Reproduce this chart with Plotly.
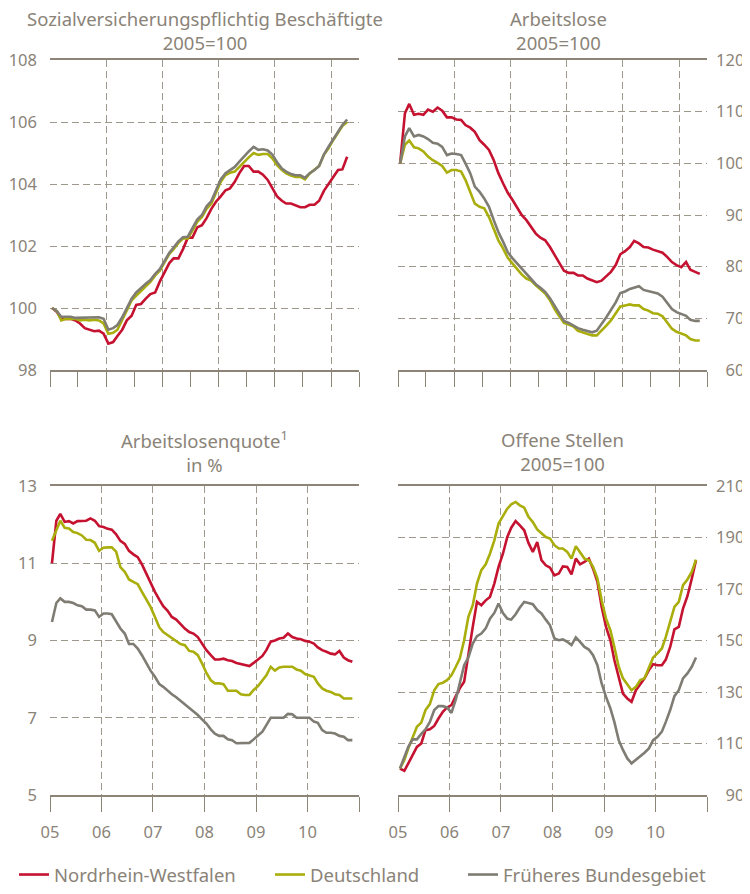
import pandas as pd
import plotly.graph_objects as go

# ---------------- data ----------------
SERIES_NAMES = ["Nordrhein-Westfalen", "Deutschland", "Früheres Bundesgebiet"]
YEAR_LABELS = ["05", "06", "07", "08", "09", "10"]

# Sozialversicherungspflichtig Beschäftigte, 2005=100 (monthly from Jan 2005)
svb_nrw = [100.0, 99.87, 99.65, 99.65, 99.65, 99.6, 99.5, 99.35, 99.3, 99.25, 99.27, 99.17,
           98.85, 98.9, 99.1, 99.3, 99.6, 99.75, 100.1, 100.13, 100.3, 100.45, 100.5, 100.85,
           101.15, 101.45, 101.6, 101.6, 101.9, 102.27, 102.27, 102.6, 102.67, 102.9, 103.2, 103.43,
           103.6, 103.8, 103.86, 104.07, 104.35, 104.58, 104.58, 104.4, 104.4, 104.3, 104.13, 103.86,
           103.6, 103.46, 103.37, 103.37, 103.3, 103.25, 103.25, 103.33, 103.33, 103.46, 103.78, 104.0,
           104.2, 104.45, 104.47, 104.88]
svb_de = [100.0, 99.9, 99.6, 99.65, 99.65, 99.65, 99.6, 99.62, 99.6, 99.62, 99.6, 99.5,
          99.17, 99.2, 99.3, 99.6, 99.92, 100.25, 100.4, 100.57, 100.7, 100.84, 101.05, 101.2,
          101.48, 101.75, 101.9, 102.1, 102.24, 102.24, 102.5, 102.78, 102.94, 103.2, 103.37, 103.7,
          104.07, 104.29, 104.36, 104.4, 104.56, 104.72, 104.86, 105.0, 104.94, 104.97, 104.97, 104.83,
          104.61, 104.45, 104.34, 104.27, 104.23, 104.23, 104.15, 104.34, 104.45, 104.58, 104.94, 105.15,
          105.42, 105.66, 105.87, 106.0]
svb_fbg = [100.0, 99.9, 99.72, 99.72, 99.72, 99.68, 99.68, 99.7, 99.68, 99.7, 99.7, 99.65,
           99.3, 99.35, 99.45, 99.7, 100.0, 100.3, 100.5, 100.65, 100.78, 100.9, 101.1, 101.25,
           101.5, 101.78, 101.95, 102.15, 102.28, 102.3, 102.58, 102.85, 103.0, 103.28, 103.45, 103.78,
           104.15, 104.35, 104.45, 104.55, 104.72, 104.9, 105.05, 105.2, 105.1, 105.12, 105.08, 104.95,
           104.7, 104.5, 104.4, 104.32, 104.28, 104.28, 104.2, 104.35, 104.45, 104.58, 104.95, 105.2,
           105.45, 105.7, 105.9, 106.08]

# Arbeitslose, 2005=100
al_nrw = [100.0, 109.7, 111.5, 109.4, 109.6, 109.4, 110.4, 110.0, 110.8, 110.2, 108.9, 108.9,
          108.5, 108.4, 107.4, 106.9, 106.1, 104.5, 103.6, 102.6, 100.6, 98.1, 96.1, 94.3,
          92.9, 91.5, 90.0, 89.0, 87.7, 86.4, 85.6, 85.1, 83.8, 82.2, 80.6, 79.2,
          78.8, 78.8, 78.3, 78.3, 77.7, 77.3, 77.0, 77.3, 78.1, 79.0, 80.3, 82.4,
          83.0, 83.8, 85.0, 84.5, 83.8, 83.7, 83.3, 83.0, 82.7, 81.9, 80.9, 80.3,
          79.9, 80.9, 79.4, 79.0, 78.6]
al_de = [100.0, 103.6, 104.4, 103.1, 102.9, 102.3, 101.3, 100.6, 100.1, 99.5, 98.2, 98.7,
         98.7, 98.4, 96.8, 94.5, 92.2, 91.6, 91.3, 89.6, 87.4, 85.1, 83.5, 81.7,
         80.6, 79.4, 78.5, 77.7, 77.3, 76.4, 75.7, 74.8, 73.5, 71.8, 70.4, 69.1,
         68.8, 68.4, 67.6, 67.3, 66.9, 66.7, 66.7, 67.6, 68.6, 69.6, 70.9, 72.3,
         72.5, 72.7, 72.5, 72.5, 71.8, 71.5, 71.0, 70.9, 70.4, 69.3, 68.0, 67.4,
         67.0, 66.7, 66.0, 65.7, 65.7]
al_fbg = [100.0, 105.2, 106.8, 105.2, 105.5, 105.2, 104.7, 104.0, 103.8, 103.2, 101.6, 101.9,
          101.8, 101.6, 100.0, 98.1, 95.5, 94.5, 93.2, 91.6, 89.0, 86.7, 84.8, 82.8,
          81.6, 80.6, 79.6, 78.5, 77.7, 76.6, 75.9, 75.1, 73.9, 72.5, 70.9, 69.5,
          69.1, 68.6, 68.1, 67.8, 67.5, 67.3, 67.6, 68.8, 70.2, 71.6, 73.1, 74.9,
          75.2, 75.7, 75.9, 76.2, 75.5, 75.3, 75.0, 74.8, 74.2, 73.1, 71.8, 71.2,
          70.9, 70.5, 69.7, 69.5, 69.5]

# Arbeitslosenquote in %
alq_nrw = [11.0, 12.1, 12.28, 12.07, 12.09, 12.03, 12.09, 12.1, 12.1, 12.16, 12.1, 11.96,
           11.94, 11.89, 11.87, 11.75, 11.58, 11.5, 11.32, 11.23, 11.16, 10.97, 10.73, 10.47,
           10.26, 10.06, 9.89, 9.77, 9.61, 9.54, 9.42, 9.31, 9.22, 9.18, 9.09, 8.92,
           8.75, 8.62, 8.51, 8.51, 8.53, 8.49, 8.47, 8.42, 8.39, 8.36, 8.34, 8.42,
           8.51, 8.6, 8.75, 8.97, 9.0, 9.05, 9.07, 9.18, 9.09, 9.05, 9.03, 8.99,
           8.97, 8.92, 8.82, 8.75, 8.71, 8.66, 8.64, 8.73, 8.56, 8.49, 8.45]
alq_de = [11.58, 11.85, 12.1, 11.92, 11.9, 11.81, 11.78, 11.72, 11.61, 11.6, 11.53, 11.32,
          11.4, 11.41, 11.41, 11.3, 10.9, 10.78, 10.58, 10.52, 10.46, 10.26, 10.06, 9.87,
          9.61, 9.34, 9.22, 9.14, 9.05, 8.97, 8.91, 8.88, 8.73, 8.71, 8.62, 8.41,
          8.16, 7.97, 7.89, 7.89, 7.87, 7.7, 7.7, 7.7, 7.61, 7.59, 7.59, 7.72,
          7.82, 7.96, 8.1, 8.32, 8.22, 8.3, 8.32, 8.32, 8.32, 8.25, 8.22, 8.13,
          8.1, 8.06, 7.89, 7.76, 7.7, 7.67, 7.61, 7.59, 7.5, 7.5, 7.5]
alq_fbg = [9.48, 9.97, 10.09, 10.0, 10.0, 9.97, 9.91, 9.89, 9.8, 9.8, 9.78, 9.61,
           9.7, 9.7, 9.68, 9.48, 9.31, 9.18, 8.91, 8.91, 8.79, 8.62, 8.41, 8.22,
           8.06, 7.87, 7.8, 7.7, 7.61, 7.53, 7.44, 7.35, 7.27, 7.16, 7.07, 6.96,
           6.85, 6.7, 6.59, 6.53, 6.53, 6.44, 6.42, 6.34, 6.34, 6.34, 6.35, 6.44,
           6.53, 6.64, 6.81, 7.0, 7.0, 7.0, 7.0, 7.1, 7.09, 7.0, 7.0, 7.0,
           7.0, 6.9, 6.87, 6.68, 6.61, 6.61, 6.59, 6.53, 6.51, 6.42, 6.42]

# Offene Stellen, 2005=100
os_nrw = [100.3, 99.4, 102.3, 105.5, 108.7, 110.0, 115.2, 115.5, 116.8, 119.7, 122.3, 124.0,
          124.9, 128.4, 131.4, 134.0, 145.0, 155.3, 165.0, 163.7, 165.6, 166.9, 172.1, 178.6,
          183.7, 190.2, 193.8, 196.4, 194.7, 192.8, 187.9, 184.4, 188.2, 181.2, 179.2, 178.3,
          175.3, 176.0, 178.8, 178.6, 175.7, 181.8, 179.6, 180.5, 181.8, 177.9, 172.8, 163.1,
          155.3, 150.1, 142.4, 135.3, 129.4, 127.5, 126.2, 130.7, 133.3, 135.3, 138.5, 140.8,
          140.4, 140.4, 142.6, 147.5, 154.3, 155.3, 162.4, 167.2, 174.0, 181.2]
os_de = [100.3, 103.6, 108.1, 112.0, 116.5, 118.1, 123.0, 125.3, 130.7, 133.1, 133.6, 134.6,
         136.5, 139.8, 143.0, 150.1, 159.2, 163.7, 172.1, 177.3, 179.6, 183.7, 188.9, 195.4,
         198.6, 201.2, 202.9, 203.8, 202.5, 201.6, 198.0, 196.0, 193.1, 191.5, 190.2, 189.6,
         187.0, 185.7, 185.7, 184.4, 181.8, 186.6, 184.0, 181.8, 181.2, 178.6, 174.1, 165.6,
         158.5, 154.0, 147.5, 139.8, 135.3, 132.7, 130.7, 132.0, 134.6, 135.3, 139.1, 143.4,
         145.0, 146.9, 151.4, 156.9, 163.1, 165.0, 171.5, 173.7, 176.6, 181.4]
os_fbg = [100.3, 104.6, 108.7, 111.6, 111.6, 113.7, 115.5, 118.4, 123.0, 124.5, 124.5, 124.0,
          121.9, 127.1, 133.3, 140.4, 143.4, 148.8, 151.7, 152.7, 154.7, 158.5, 160.7, 164.4,
          160.7, 158.5, 158.1, 160.2, 162.8, 165.0, 164.6, 164.1, 161.8, 160.5, 158.1, 155.9,
          150.8, 150.1, 150.4, 149.5, 148.2, 151.2, 149.5, 147.5, 146.5, 144.3, 140.4, 133.3,
          128.1, 123.6, 118.4, 111.3, 107.5, 104.2, 102.3, 103.6, 105.1, 106.4, 108.1, 111.3,
          112.6, 114.6, 118.4, 123.0, 128.4, 130.7, 135.3, 137.2, 139.8, 143.4]

# ---------------- styling ----------------
COLORS = ["#C41230", "#A9AE0C", "#7F7C74"]
TEXT = "#8A8378"
AXIS = "#8C8477"
GRID = "#9E978C"
FONT = "Noto Sans"
FS_TICK = 16.5
FS_TEXT = 18.5
PAGE_W, PAGE_H = 750, 894
OFF = 8                       # default body margin of the html page
W, H = PAGE_W - OFF, PAGE_H - OFF
FIGSPACE = "\u2007"


def months(n):
    return pd.date_range("2005-01-01", periods=n, freq="MS") + pd.Timedelta(days=14)


panels = [
    dict(title="Sozialversicherungspflichtig Beschäftigte<br>2005=100",
         data=[svb_nrw, svb_de, svb_fbg], yr=[98, 108], dy=2, side="left", top=True),
    dict(title="Arbeitslose<br>2005=100",
         data=[al_nrw, al_de, al_fbg], yr=[60, 120], dy=10, side="right", top=True),
    dict(title="Arbeitslosenquote<sup>1</sup><br>in %",
         data=[alq_nrw, alq_de, alq_fbg], yr=[5, 13], dy=2, side="left", top=False),
    dict(title="Offene Stellen<br>2005=100",
         data=[os_nrw, os_de, os_fbg], yr=[90, 210], dy=20, side="right", top=False),
]

# page-pixel geometry of the plot areas
XDOM = [(50, 359), (398, 707)]
YDOM_TOP = (60, 370)
YDOM_BOT = (486, 795)
TITLE_CX = [205, 558, 204, 562]
TITLE_CY = [31, 31, 451, 451]


def px_x(v):
    return (v - OFF) / W


def px_y(v):
    return 1 - (v - OFF) / H


fig = go.Figure()
layout = {}
annotations = []

for k, p in enumerate(panels):
    col = k % 2
    row = k // 2
    idx = "" if k == 0 else str(k + 1)
    xa, ya = "x" + idx, "y" + idx
    yd = YDOM_TOP if row == 0 else YDOM_BOT
    for s, (vals, name) in enumerate(zip(p["data"], SERIES_NAMES)):
        fig.add_trace(go.Scatter(
            x=months(len(vals)), y=vals, mode="lines", name=name,
            line=dict(color=COLORS[s], width=2.6),
            xaxis=xa, yaxis=ya, showlegend=(k == 2),
            legend=["legend", "legend2", "legend3"][s],
            hoverinfo="skip"))

    if p["top"]:
        xrange = ["2005-01-01", "2010-07-01"]
        tickvals = pd.date_range("2005-01-01", "2010-07-01", freq="6MS")
        ticktext = [""] * len(tickvals)
    else:
        xrange = ["2005-01-01", "2011-01-01"]
        tickvals = pd.date_range("2005-01-01", "2011-01-01", freq="YS")
        ticktext = YEAR_LABELS + [""]
    gridvals = pd.date_range("2006-01-01", "2010-01-01", freq="YS")

    layout["xaxis" + idx] = dict(
        domain=[px_x(XDOM[col][0]), px_x(XDOM[col][1])],
        anchor=ya, type="date", range=xrange,
        tickvals=tickvals, ticktext=ticktext,
        ticks="outside", ticklen=15, tickwidth=1.3, tickcolor=AXIS,
        showline=True, mirror=True, linecolor=AXIS, linewidth=1.5,
        showgrid=False, zeroline=False, automargin=False,
        minor=dict(tickvals=gridvals, showgrid=True, gridcolor=GRID,
                   griddash="7px,4px", gridwidth=1, ticks=""),
        tickfont=dict(family=FONT, size=FS_TICK, color=TEXT),
        ticklabelstandoff=6,
        fixedrange=True,
    )
    ytv = list(range(p["yr"][0], p["yr"][1] + 1, p["dy"]))
    ytt = [str(v) for v in ytv]
    if p["side"] == "right":          # right-align labels: pad with figure spaces
        width = max(len(t) for t in ytt)
        ytt = [FIGSPACE * (width - len(t)) + t for t in ytt]
    layout["yaxis" + idx] = dict(
        domain=[px_y(yd[1]), px_y(yd[0])], anchor=xa,
        range=p["yr"], tickvals=ytv, ticktext=ytt, side=p["side"],
        showgrid=True, gridcolor=GRID, griddash="7px,4px", gridwidth=1,
        showline=False, zeroline=False, ticks="", automargin=False,
        ticklabelstandoff=12 if p["side"] == "left" else 8,
        tickfont=dict(family=FONT, size=FS_TICK, color=TEXT),
        fixedrange=True,
    )
    annotations.append(dict(
        text=p["title"], x=px_x(TITLE_CX[k]), y=px_y(TITLE_CY[k]),
        xref="paper", yref="paper", xanchor="center", yanchor="middle",
        showarrow=False, align="center",
        font=dict(family=FONT, size=FS_TEXT, color=TEXT)))

legend_style = dict(orientation="h", yanchor="bottom", xanchor="left",
                    font=dict(family=FONT, size=FS_TEXT, color=TEXT),
                    bgcolor="rgba(0,0,0,0)", itemclick=False, itemdoubleclick=False)
LEG_X = [14, 270, 463]
for s, key in enumerate(["legend", "legend2", "legend3"]):
    layout[key] = dict(legend_style, x=px_x(LEG_X[s]), y=0)

fig.update_layout(
    width=W, height=H,
    margin=dict(l=0, r=0, t=0, b=0, autoexpand=False),
    paper_bgcolor="white", plot_bgcolor="white",
    annotations=annotations,
    **layout,
)

fig.write_html("out.html")
